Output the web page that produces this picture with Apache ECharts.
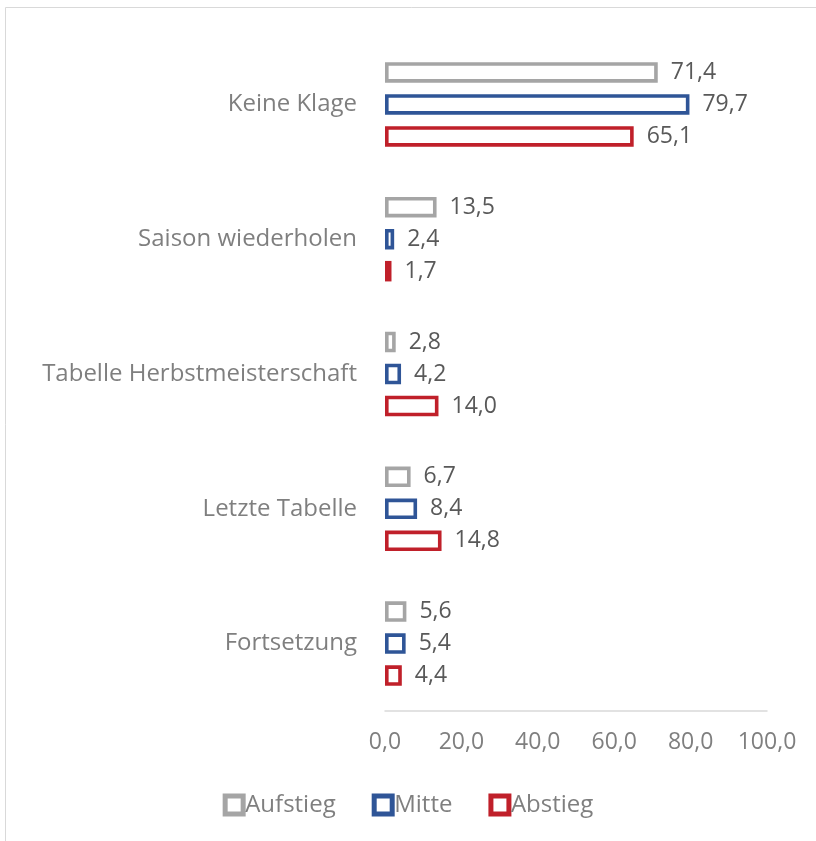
<!DOCTYPE html>
<html><head><meta charset="utf-8">
<script src="https://cdn.jsdelivr.net/npm/echarts@6/dist/echarts.min.js"></script>
<style>html,body{margin:0;padding:0;background:#fff}#c{width:816px;height:841px}</style>
</head><body><div id="c"></div>
<script>
const categories = ['Keine Klage','Saison wiederholen','Tabelle Herbstmeisterschaft','Letzte Tabelle','Fortsetzung'];
const aufstieg = [71.4, 13.5, 2.8, 6.7, 5.6];
const mitte = [79.7, 2.4, 4.2, 8.4, 5.4];
const abstieg = [65.1, 1.7, 14.0, 14.8, 4.4];
const xTicks = [0, 20, 40, 60, 80, 100];

const FONT = '"Open Sans"';
const fmt = v => v.toFixed(1).replace('.', ',');
function mk(name, data, color) {
  return {
    name, type: 'bar', data,
    barWidth: 20.5, barGap: '56%',
    itemStyle: { color: '#fff', borderColor: color, borderWidth: 3.6 },
    label: { show: true, position: 'right', distance: 13, formatter: p => fmt(p.value),
      fontFamily: FONT, fontSize: 23, color: '#595959' }
  };
}
const chart = echarts.init(document.getElementById('c'));
chart.setOption({
  animation: false,
  graphic: [{ type: 'rect', shape: { x: 5.5, y: 7.5, width: 1000, height: 1000 },
    style: { fill: 'none', stroke: '#d9d9d9', lineWidth: 1 }, silent: true }],
  grid: { left: 385, right: 49, top: 37, bottom: 130, containLabel: false },
  xAxis: { type: 'value', min: xTicks[0], max: xTicks[xTicks.length-1], interval: 20,
    axisLine: { show: true, lineStyle: { color: '#d9d9d9', width: 1.5 } },
    axisTick: { show: false }, splitLine: { show: false },
    axisLabel: { formatter: v => fmt(v), fontFamily: FONT, fontSize: 23, color: '#7f7f7f', margin: 20 } },
  yAxis: { type: 'category', data: categories, inverse: true,
    axisLine: { show: false }, axisTick: { show: false },
    axisLabel: { fontFamily: FONT, fontSize: 24, color: '#7f7f7f', margin: 28 } },
  legend: { bottom: 19, left: 'center', itemWidth: 18, itemHeight: 18, itemGap: 36,
    icon: 'rect', itemStyle: { borderWidth: 5, color: '#fff' },
    textStyle: { fontFamily: FONT, fontSize: 24, color: '#7f7f7f', padding: [0,0,0,-3] },
    data: ['Aufstieg','Mitte','Abstieg'] },
  series: [mk('Aufstieg', aufstieg, '#a5a5a5'), mk('Mitte', mitte, '#2f5597'), mk('Abstieg', abstieg, '#c0202a')]
});
</script></body></html>
